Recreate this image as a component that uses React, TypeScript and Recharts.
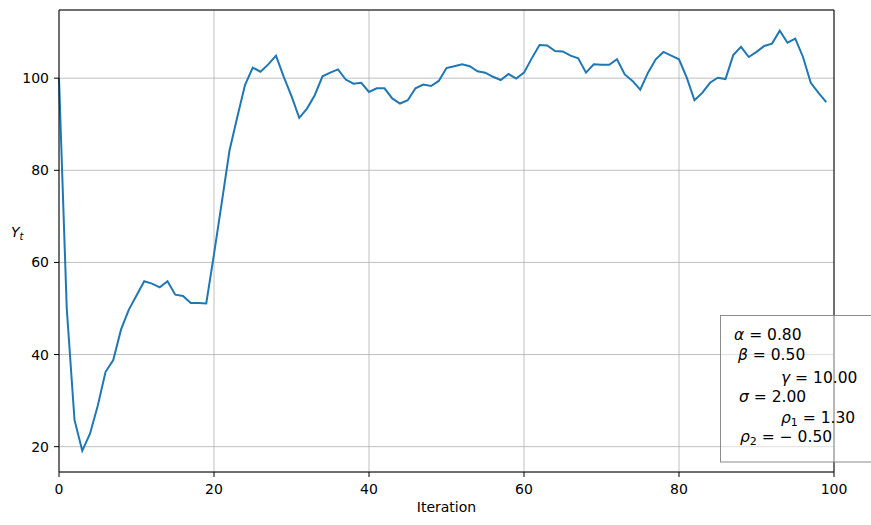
import React from 'react';
import {
    LineChart,
    Line,
    XAxis,
    YAxis,
    CartesianGrid,
    ReferenceLine,
    Label,
} from 'recharts';

// Y_t per iteration
const yValues = [
    100.0, 50.0, 25.8, 19.1, 22.8, 28.9, 36.2, 38.8, 45.4, 49.7,
    52.8, 55.9, 55.4, 54.6, 55.9, 53.0, 52.7, 51.2, 51.2, 51.1,
    61.8, 73.0, 84.3, 91.5, 98.5, 102.3, 101.4, 103.0, 104.9, 100.3,
    96.1, 91.4, 93.4, 96.3, 100.4, 101.2, 101.9, 99.7, 98.8, 99.0,
    97.0, 97.8, 97.8, 95.6, 94.5, 95.2, 97.8, 98.6, 98.3, 99.4,
    102.2, 102.6, 103.0, 102.6, 101.5, 101.2, 100.3, 99.6, 100.9, 99.9,
    101.2, 104.3, 107.2, 107.1, 105.9, 105.8, 104.9, 104.3, 101.2, 103.0,
    102.9, 102.9, 104.1, 100.8, 99.4, 97.5, 101.2, 104.1, 105.7, 104.9,
    104.1, 100.1, 95.2, 96.8, 99.0, 100.1, 99.8, 105.0, 106.8, 104.6,
    105.7, 107.0, 107.5, 110.3, 107.7, 108.6, 104.6, 99.0, 96.8, 94.8,
];

const xTicks = [0, 20, 40, 60, 80, 100];
const yTicks = [20, 40, 60, 80, 100];
const xDomain = [0, 100];
const yDomain = [14.5, 114.8];

const params = [
    { sym: 'α', sub: '', val: '0.80' },
    { sym: 'β', sub: '', val: '0.50' },
    { sym: 'γ', sub: '', val: '10.00' },
    { sym: 'σ', sub: '', val: '2.00' },
    { sym: 'ρ', sub: '1', val: '1.30' },
    { sym: 'ρ', sub: '2', val: '−0.50' },
];

const data = yValues.map((y, i) => ({ iter: i, y }));

const FONT = 'DejaVu Sans, sans-serif';

// text placement inside the parameter box (mathtext leaves it ragged)
const paramPos = [
    { x: 734, y: 340 },
    { x: 738, y: 360 },
    { x: 781, y: 383 },
    { x: 739, y: 402 },
    { x: 781, y: 423 },
    { x: 740, y: 442 },
];

const YLabel = (props: any) => {
    const vb = props.viewBox || { x: 0, y: 0, width: 0, height: 0 };
    const cy = vb.y + vb.height / 2 - 9;
    return (
        <text x={vb.x + 11} y={cy + 5} fontFamily={FONT} fontSize={14} fill="#000">
            <tspan fontStyle="italic">Y</tspan>
            <tspan fontStyle="italic" fontSize={10} dy={3}>t</tspan>
        </text>
    );
};

const App: React.FC = () => {
    return (
        <div style={{ position: 'absolute', left: 0, top: 0, width: 871, height: 525, background: '#fff' }}>
            <LineChart
                width={871}
                height={525}
                data={data}
                margin={{ top: 10, right: 37, left: 0, bottom: 0 }}
            >
                <CartesianGrid stroke="#b0b0b0" strokeWidth={0.8} />
                <XAxis
                    dataKey="iter"
                    type="number"
                    domain={xDomain}
                    ticks={xTicks}
                    height={53}
                    stroke="#000"
                    tickSize={5}
                    tickMargin={7}
                    tick={{ fill: '#000', fontSize: 14, fontFamily: FONT }}
                >
                    <Label
                        value="Iteration"
                        position="insideBottom"
                        offset={13}
                        style={{ fill: '#000', fontSize: 14, fontFamily: FONT }}
                    />
                </XAxis>
                <YAxis
                    type="number"
                    domain={yDomain}
                    ticks={yTicks}
                    width={59}
                    stroke="#000"
                    tickSize={5}
                    tickMargin={5}
                    allowDataOverflow
                    tick={{ fill: '#000', fontSize: 14, fontFamily: FONT }}
                >
                    <Label content={YLabel} />
                </YAxis>
                <ReferenceLine x={100} stroke="#000" strokeWidth={1} />
                <ReferenceLine y={114.8} stroke="#000" strokeWidth={1} />
                <Line
                    type="linear"
                    dataKey="y"
                    stroke="#1f77b4"
                    strokeWidth={2}
                    dot={false}
                    isAnimationActive={false}
                />
            </LineChart>
            <svg
                width={871}
                height={525}
                style={{ position: 'absolute', left: 0, top: 0, pointerEvents: 'none' }}
            >
                <rect x={720.5} y={315.5} width={170} height={146.5} fill="rgba(255,255,255,0.5)" stroke="rgba(128,128,128,0.9)" strokeWidth={1} />
                {params.map((p, i) => (
                    <text key={i} x={paramPos[i].x} y={paramPos[i].y} fontFamily={FONT} fontSize={15.5} fill="#000">
                        <tspan fontStyle="italic">{p.sym}</tspan>
                        {p.sub ? <tspan fontSize={11} dy={3}>{p.sub}</tspan> : null}
                        <tspan dy={p.sub ? -3 : 0}>{' = ' + p.val.replace('−', '− ')}</tspan>
                    </text>
                ))}
            </svg>
        </div>
    );
};

export default App;
